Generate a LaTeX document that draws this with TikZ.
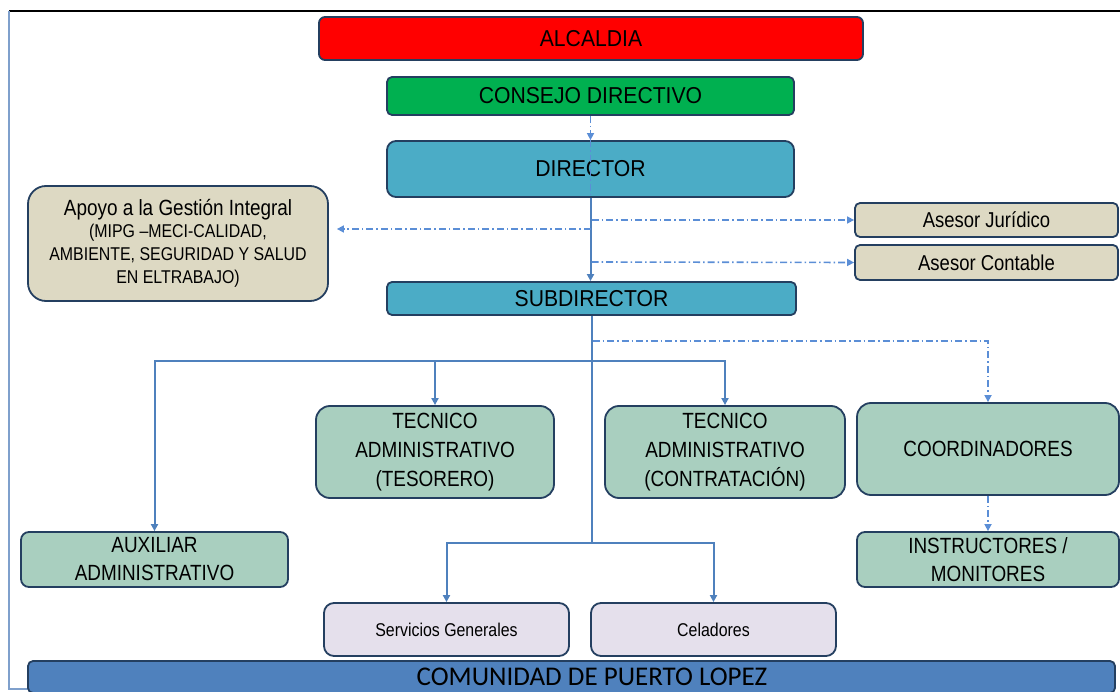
\documentclass[tikz,border=0pt]{standalone}
\usepackage{fontspec}
\setmainfont{Liberation Sans}[FakeStretch=0.86]
\newfontfamily\wfont{Liberation Sans}[FakeStretch=0.92]
\newfontfamily\cfont{Carlito}
\usetikzlibrary{arrows.meta}
\definecolor{bordc}{HTML}{243F60}
\definecolor{lnc}{HTML}{4F81BD}
\definecolor{ddc}{HTML}{5B8ED6}
\definecolor{framec}{HTML}{7FA0CC}
\definecolor{redf}{HTML}{FF0000}
\definecolor{greenf}{HTML}{00B050}
\definecolor{tealf}{HTML}{4BACC6}
\definecolor{beigef}{HTML}{DDD9C3}
\definecolor{mintf}{HTML}{A9CFBF}
\definecolor{lavf}{HTML}{E5E0EC}
\definecolor{comf}{HTML}{4F81BD}
\tikzset{
  box/.style={draw=bordc,line width=1.8pt,inner sep=0pt,align=center,text=black},
  conn/.style={draw=lnc,line width=2pt},
  dd/.style={draw=ddc,line width=1.6pt,dash pattern=on 7pt off 3pt on 1.5pt off 3pt},
  tip/.style={-{Triangle[length=7pt,width=7pt]}},
  mainf/.style={font=\fontsize{22}{29}\selectfont},
  topf/.style={font=\wfont\fontsize{23}{27}\selectfont},
  smallf/.style={font=\fontsize{18.5}{23}\selectfont}
}
\begin{document}
\begin{tikzpicture}[x=1pt,y=-1pt]
\useasboundingbox (0,0) rectangle (1120,692);
% frame
\draw[black,line width=2pt] (9,11) -- (1120,11);
\draw[framec,line width=2.5pt] (9,11) -- (9,689) -- (28,689);
% nodes
\node[box,fill=redf,rounded corners=6pt,minimum width=544pt,minimum height=43pt,topf] (alc) at (591,38.5) {ALCALDIA};
\node[box,fill=greenf,rounded corners=5pt,minimum width=407pt,minimum height=38pt,topf] (cons) at (590.5,96) {CONSEJO DIRECTIVO};
\node[box,fill=tealf,rounded corners=9pt,minimum width=407pt,minimum height=56pt,topf] (dir) at (590.5,169) {DIRECTOR};
\node[box,fill=beigef,rounded corners=18pt,minimum width=300pt,minimum height=115pt,smallf] (apoyo) at (178,243.5)
  {{\fontsize{22}{26}\selectfont Apoyo a la Gestión Integral}\\[-1pt] (MIPG –MECI-CALIDAD,\\ AMBIENTE, SEGURIDAD Y SALUD\\ EN ELTRABAJO)};
\node[box,fill=beigef,rounded corners=5pt,minimum width=263pt,minimum height=34pt,font=\fontsize{21.5}{25}\selectfont] (jur) at (986.5,220) {Asesor Jurídico};
\node[box,fill=beigef,rounded corners=5pt,minimum width=263pt,minimum height=35pt,font=\fontsize{21.5}{25}\selectfont] (cont) at (986.5,262.5) {Asesor Contable};
\node[box,fill=tealf,rounded corners=5pt,minimum width=409pt,minimum height=33pt,topf] (sub) at (591.5,298.5) {SUBDIRECTOR};
\node[box,fill=mintf,rounded corners=14pt,minimum width=238pt,minimum height=92pt,mainf] (tes) at (435,452) {TECNICO\\ ADMINISTRATIVO\\ (TESORERO)};
\node[box,fill=mintf,rounded corners=14pt,minimum width=240pt,minimum height=92pt,mainf] (contr) at (725,452) {TECNICO\\ ADMINISTRATIVO\\ (CONTRATACIÓN)};
\node[box,fill=mintf,rounded corners=14pt,minimum width=262pt,minimum height=92pt,mainf] (coord) at (988,449) {COORDINADORES};
\node[box,fill=mintf,rounded corners=8pt,minimum width=267pt,minimum height=55pt,font=\fontsize{22}{28}\selectfont] (aux) at (154.5,559.5) {AUXILIAR\\ ADMINISTRATIVO};
\node[box,fill=mintf,rounded corners=8pt,minimum width=262pt,minimum height=55pt,font=\fontsize{22}{28}\selectfont] (instr) at (988,559.5) {INSTRUCTORES /\\ MONITORES};
\node[box,fill=lavf,rounded corners=10pt,minimum width=245pt,minimum height=53pt,smallf] (serv) at (446.5,629.5) {Servicios Generales};
\node[box,fill=lavf,rounded corners=10pt,minimum width=245pt,minimum height=53pt,smallf] (cel) at (713.5,629.5) {Celadores};
\node[box,fill=comf,rounded corners=5pt,minimum width=1087pt,minimum height=32pt,font=\cfont\fontsize{27}{31}\selectfont] (com) at (571.5,677) {\hspace*{41pt}COMUNIDAD DE PUERTO LOPEZ};
% helper levels
\coordinate (yj) at (0,220);
\coordinate (ya) at (0,229);
\coordinate (yc) at (0,262);
\coordinate (yd) at (0,341);
\coordinate (yh) at (0,361);
\coordinate (yl) at (0,543);
% connectors
\draw[dd,tip] (cons.south) -- (dir.north);
\draw[dd] (dir.north) -- (dir.south) -- (dir.south |- yc);
\draw[conn,tip] (dir.south) -- (dir.south |- sub.north);
\draw[dd,tip,shorten >=8pt] (dir.south |- ya) -- (apoyo.east |- ya);
\draw[dd,tip] ([xshift=1pt]dir.south |- yj) -- (jur.west);
\draw[dd,tip] ([xshift=1pt]dir.south |- yc) -- (cont.west);
\draw[conn] (sub.south) -- (sub.south |- yl);
\draw[conn,tip] (sub.south |- yh) -| (aux.north);
\draw[conn,tip] (sub.south |- yh) -| (contr.north);
\draw[conn,tip] (tes.north |- yh) -- (tes.north);
\draw[conn,tip] (sub.south |- yl) -| (serv.north);
\draw[conn,tip] (sub.south |- yl) -| (cel.north);
\draw[dd,tip] ([xshift=1pt]sub.south |- yd) -| (coord.north);
\draw[dd,tip] (coord.south) -- (instr.north);
\end{tikzpicture}
\end{document}
